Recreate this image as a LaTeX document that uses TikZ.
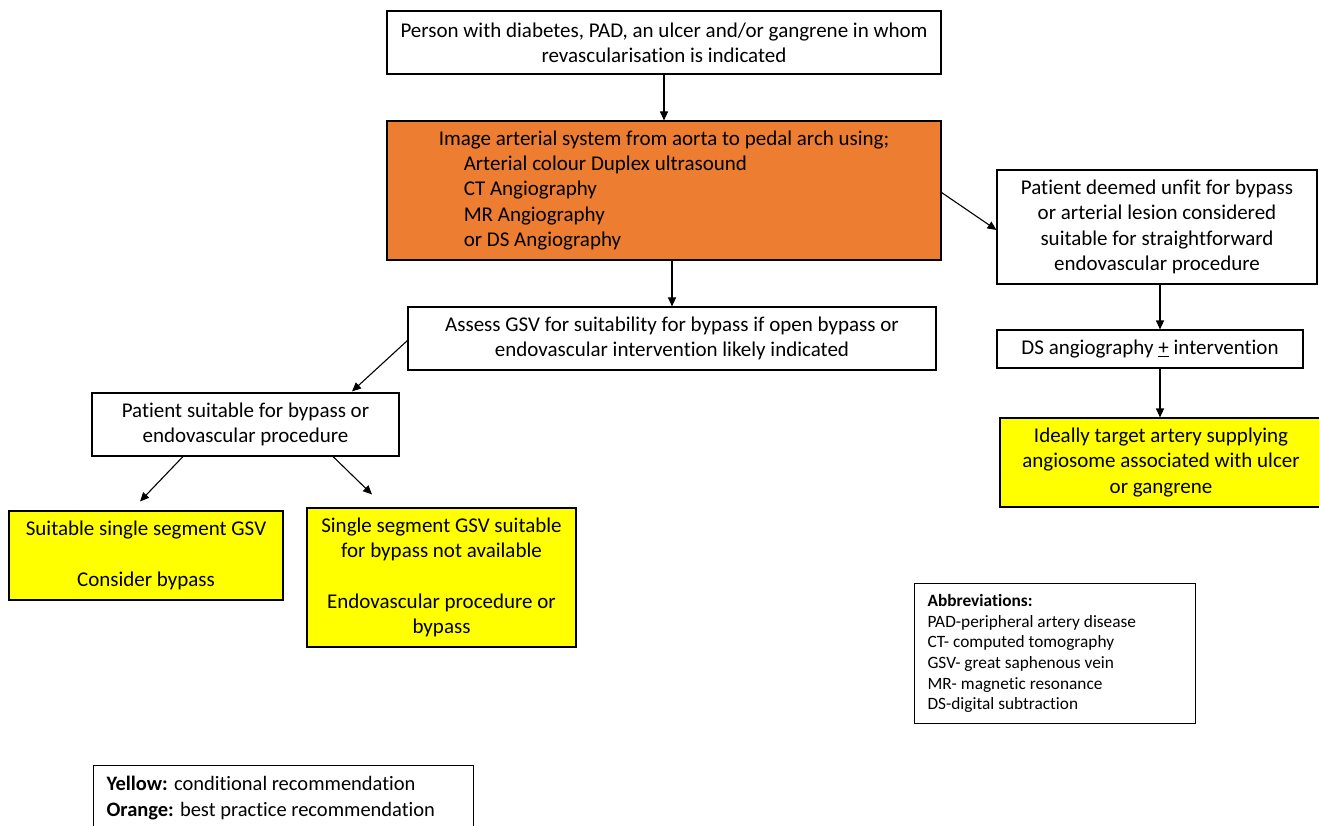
\documentclass[tikz,border=0pt]{standalone}
\usepackage{fontspec}
\setmainfont{Carlito}[Ligatures=NoCommon]
\usetikzlibrary{arrows.meta}
\definecolor{orfill}{HTML}{ED7D31}
\definecolor{yefill}{HTML}{FFFF00}
\tikzset{
  box/.style={draw=black, line width=1.1pt, inner sep=0pt, align=center,
    font=\fontsize{21}{25.3}\selectfont},
  arr/.style={line width=1.1pt, -{Triangle[length=9pt,width=8pt]}},
}
\begin{document}
\begin{tikzpicture}[x=1pt,y=-1pt]
\useasboundingbox (0,0) rectangle (1319,826);
\clip (0,0) rectangle (1319,826);
\fill[white] (0,0) rectangle (1319,826);

\node[box, minimum width=554pt, minimum height=63pt] (top) at (664,42.5)
  {Person with diabetes, PAD, an ulcer and/or gangrene in whom\\revascularisation is indicated};

\node[box, fill=orfill, minimum width=554pt, minimum height=139pt, align=left] (orange) at (664,190.5)
  {Image arterial system from aorta to pedal arch using;\\
   \hspace*{25pt}Arterial colour Duplex ultrasound\\
   \hspace*{25pt}CT Angiography\\
   \hspace*{25pt}MR Angiography\\
   \hspace*{25pt}or DS Angiography};

\node[box, minimum width=528pt, minimum height=63pt] (assess) at (672,338.5)
  {Assess GSV for suitability for bypass if open bypass or\\endovascular intervention likely indicated};

\node[box, minimum width=320pt, minimum height=114pt] (unfit) at (1157,227)
  {Patient deemed unfit for bypass\\or arterial lesion considered\\suitable for straightforward\\endovascular procedure};

\node[box, minimum width=306pt, minimum height=38pt] (ds) at (1150,349)
  {DS angiography \underline{+} intervention};

\node[box, fill=yefill, minimum width=322pt, minimum height=89pt] (ideal) at (1161,462.5)
  {Ideally target artery supplying\\angiosome associated with ulcer\\or gangrene};

\node[box, minimum width=307pt, minimum height=63pt] (psuit) at (245.5,424.5)
  {Patient suitable for bypass or\\endovascular procedure};

\node[box, fill=yefill, minimum width=274pt, minimum height=89pt] (ssgsv) at (146,555.5)
  {Suitable single segment GSV\\[25.3pt]Consider bypass};

\node[box, fill=yefill, minimum width=269pt, minimum height=139pt] (nogsv) at (441.5,577.5)
  {Single segment GSV suitable\\for bypass not available\\[25.3pt]Endovascular procedure or\\bypass};

\node[draw=black, line width=1.1pt, anchor=north west, inner xsep=13pt, inner ysep=0pt,
  text width=255pt, minimum height=140pt, align=flush left,
  font=\fontsize{17.3}{20.7}\selectfont] (abbr) at (914,583)
  {\textbf{Abbreviations:}\\
   PAD-peripheral artery disease\\
   CT- computed tomography\\
   GSV- great saphenous vein\\
   MR- magnetic resonance\\
   DS-digital subtraction};

\node[draw=black, line width=1.1pt, anchor=north west, inner xsep=13pt, inner ysep=11pt,
  text width=354pt, align=flush left,
  font=\fontsize{20.5}{25.3}\selectfont] (legend) at (93,765)
  {\textbf{Yellow:} conditional recommendation\\
   \textbf{Orange:} best practice recommendation\\
   \strut};

\coordinate (rx) at (1160,0);

\draw[arr] (top.south) -- (orange.north);
\draw[arr] (assess.north |- orange.south) -- (assess.north);
\draw[arr] ([yshift=-2pt]orange.east) -- ([yshift=-3pt]unfit.west);
\draw[arr] (unfit.south -| rx) -- (ds.north -| rx);
\draw[arr] (ds.south -| rx) -- (ideal.north -| rx);
\draw[arr] ([yshift=-2pt]assess.west) -- ([xshift=106.5pt,yshift=1pt]psuit.north);
\draw[arr] ([xshift=-62.5pt]psuit.south) -- ([xshift=-6pt,yshift=9pt]ssgsv.north);
\draw[arr] ([xshift=86.5pt,yshift=1pt]psuit.south) -- ([xshift=-69.5pt,yshift=13pt]nogsv.north);
\end{tikzpicture}
\end{document}
